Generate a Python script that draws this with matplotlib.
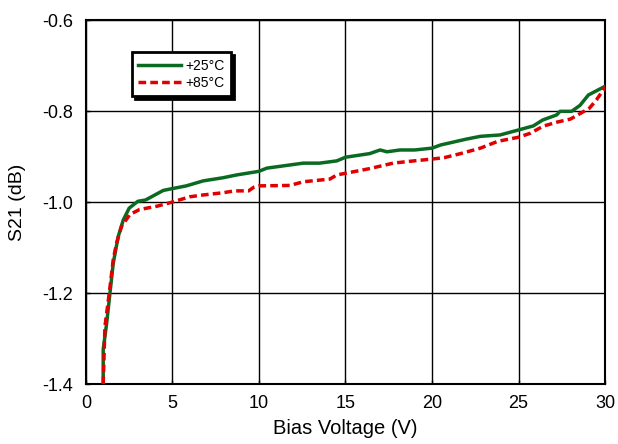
import matplotlib
matplotlib.use("Agg")
import matplotlib.pyplot as plt

plt.rcParams['font.family'] = ['Liberation Sans', 'DejaVu Sans']

# S21 vs bias voltage
v_25 = [1.0, 1.0, 1.2, 1.39, 1.58, 1.87, 2.16, 2.5, 3.0, 3.45, 4.47, 4.86, 5.8,
        6.78, 7.94, 8.7, 10.0, 10.45, 12.56, 13.5, 14.5, 15.0, 16.4, 17.0, 17.4,
        18.15, 19.0, 20.0, 20.5, 22.0, 22.8, 23.93, 25.0, 25.86, 26.4, 27.2,
        27.4, 28.07, 28.55, 29.04, 30.0]
s21_25 = [-1.40, -1.324, -1.266, -1.20, -1.134, -1.075, -1.039, -1.013, -0.998,
          -0.995, -0.974, -0.971, -0.964, -0.953, -0.946, -0.940, -0.932, -0.925,
          -0.914, -0.914, -0.909, -0.901, -0.893, -0.885, -0.889, -0.885, -0.885,
          -0.881, -0.874, -0.861, -0.855, -0.852, -0.841, -0.832, -0.819, -0.808,
          -0.800, -0.800, -0.787, -0.764, -0.745]

v_85 = [1.0, 1.1, 1.35, 1.58, 1.77, 2.06, 2.54, 3.1, 4.08, 4.96, 6.0, 6.78, 7.94,
        8.6, 9.4, 9.7, 10.0, 11.8, 12.56, 14.1, 14.5, 16.4, 17.75, 18.7, 20.0,
        20.7, 21.65, 22.8, 23.8, 25.0, 25.7, 26.4, 27.2, 28.0, 28.6, 29.1, 29.5,
        29.9, 30.0]
s21_85 = [-1.40, -1.273, -1.20, -1.126, -1.09, -1.053, -1.027, -1.016, -1.009,
          -1.000, -0.988, -0.984, -0.979, -0.975, -0.975, -0.967, -0.964, -0.963,
          -0.955, -0.949, -0.940, -0.926, -0.914, -0.910, -0.905, -0.902, -0.893,
          -0.881, -0.866, -0.857, -0.848, -0.833, -0.824, -0.817, -0.804, -0.793,
          -0.775, -0.753, -0.745]

x_ticks = [0, 5, 10, 15, 20, 25, 30]
y_ticks = [-1.4, -1.2, -1.0, -0.8, -0.6]

fig = plt.figure(figsize=(6.18, 4.44), dpi=100)
ax = fig.add_axes([0.139, 0.135, 0.840, 0.819])

ax.plot(v_25, s21_25, color='#0b6a22', lw=2.5, label='+25°C', zorder=3)
ax.plot(v_85, s21_85, color='#e00000', lw=2.5, ls=(0, (2.2, 1.2)),
        label='+85°C', zorder=4)

ax.set_xlim(0, 30)
ax.set_ylim(-1.4, -0.6)
ax.set_xticks(x_ticks)
ax.set_yticks(y_ticks)
ax.set_yticklabels([f"{t:.1f}" for t in y_ticks])
ax.grid(True, color='black', lw=1.0)
ax.set_axisbelow(True)
for s in ax.spines.values():
    s.set_linewidth(1.5)
ax.tick_params(direction='in', length=3, width=1, labelsize=13)
ax.tick_params(axis='x', pad=8)
ax.tick_params(axis='y', pad=9)

ax.set_xlabel('Bias Voltage (V)', fontsize=14.5, labelpad=5)
ax.set_ylabel('S21 (dB)', fontsize=14, labelpad=12)

leg = ax.legend(loc='upper left', bbox_to_anchor=(0.089, 0.912), fontsize=10,
                frameon=True, fancybox=False, framealpha=1,
                shadow={'color': 'black', 'alpha': 1.0},
                handlelength=3.1, handletextpad=0.3, borderpad=0.45,
                labelspacing=0.25, borderaxespad=0)
leg.get_frame().set_edgecolor('black')
leg.get_frame().set_linewidth(2)

fig.savefig('out.png', dpi=100)
